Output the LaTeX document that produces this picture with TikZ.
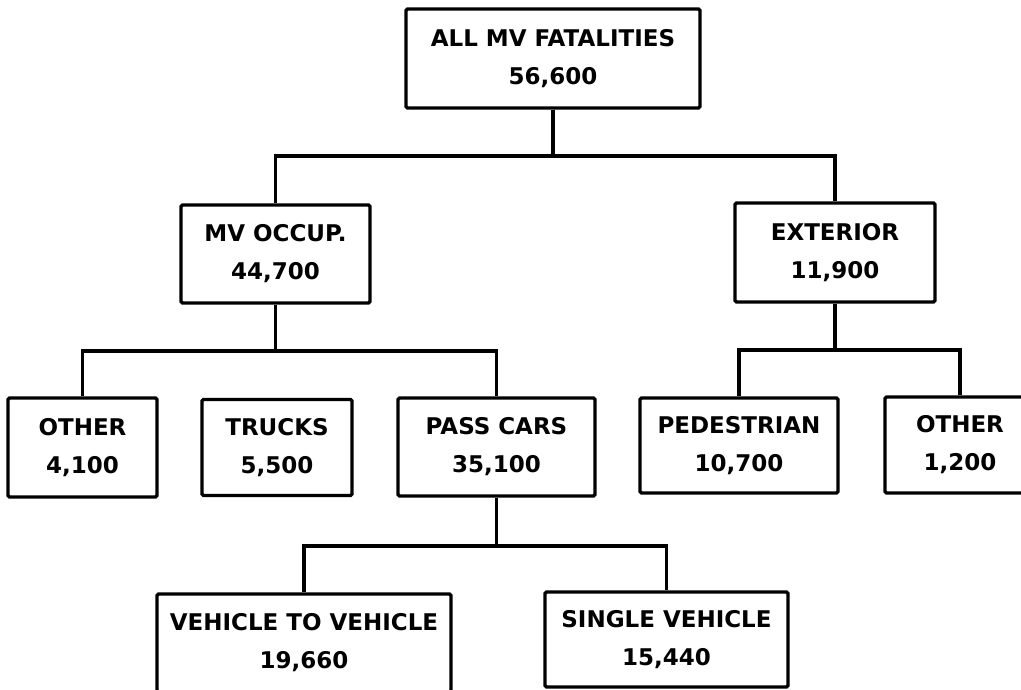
\documentclass[tikz,border=0pt]{standalone}
\usepackage{fontspec}
\setmainfont{DejaVu Sans}
\begin{document}
\begin{tikzpicture}[x=1pt, y=-1pt, line width=3.3pt,
    box/.style={draw, rounded corners=1.5pt, inner sep=0pt, align=center,
      font=\bfseries\fontsize{23}{38}\selectfont}]
      \useasboundingbox (0,0) rectangle (1021,690);
      % top level
      \node [box, minimum width=294pt, minimum height=99pt] (all) at (553,58.5) {ALL MV FATALITIES\\56,600};
      \node [box, minimum width=189pt, minimum height=98pt] (occ) at (275.5,254) {MV OCCUP.\\44,700};
      \node [box, minimum width=200pt, minimum height=99pt] (ext) at (835,252.5) {EXTERIOR\\11,900};
      % third row
      \node [box, minimum width=149pt, minimum height=99pt] (oth) at (82.5,447.5) {OTHER\\4,100};
      \node [box, minimum width=150pt, minimum height=96pt] (trk) at (277,447.5) {TRUCKS\\5,500};
      \node [box, minimum width=197pt, minimum height=98pt] (car) at (496.5,447) {PASS CARS\\35,100};
      \node [box, minimum width=198pt, minimum height=95pt] (ped) at (739,445.5) {PEDESTRIAN\\10,700};
      \node [box, minimum width=150pt, minimum height=96pt] (oex) at (960,445) {OTHER\\1,200};
      % bottom row
      \node [box, minimum width=294pt, minimum height=98pt] (vtv) at (304,643) {VEHICLE TO VEHICLE\\19,660};
      \node [box, minimum width=243pt, minimum height=95pt] (sgl) at (666.5,639.5) {SINGLE VEHICLE\\15,440};
      % junctions
      \coordinate (ja) at (all.south |- 0,156);
      \coordinate (jo) at (occ.south |- 0,351);
      \coordinate (je) at (ext.south |- 0,350);
      \coordinate (jc) at (car.south |- 0,546);
      \draw (all.south) -- (ja);
      \draw (occ.north) |- (ja) -| (ext.north);
      \draw (occ.south) -- (jo);
      \draw (oth.north) |- (jo) -| (car.north);
      \draw (ext.south) -- (je);
      \draw (ped.north) |- (je) -| (oex.north);
      \draw (car.south) -- (jc);
      \draw (vtv.north) |- (jc) -| (sgl.north);
    \end{tikzpicture}
\end{document}
